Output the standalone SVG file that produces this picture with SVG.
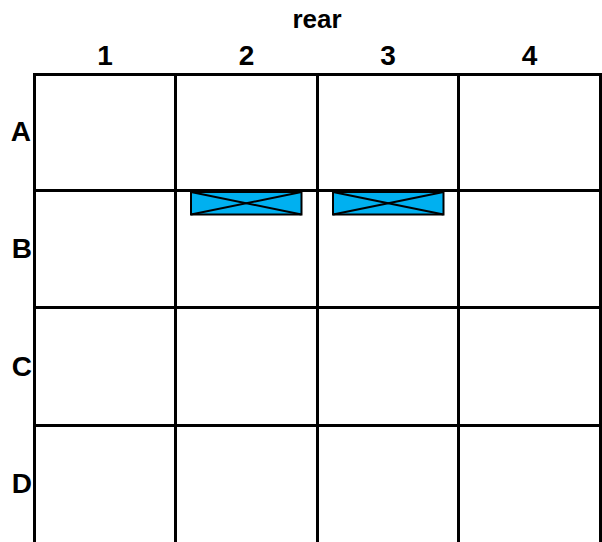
<svg xmlns="http://www.w3.org/2000/svg" width="602" height="542" viewBox="0 0 602 542">
<style>
.lbl{font-family:"Liberation Sans",Arial,sans-serif;font-weight:bold;fill:#000}
.grid line{stroke:#000;stroke-width:3}
.box rect{fill:#00B0F0;stroke:#000;stroke-width:2}
.box line{stroke:#000;stroke-width:2}
</style>
<rect width="602" height="542" fill="#fff"/>
<g id="labels">
<text class="lbl" x="317" y="28" font-size="26" text-anchor="middle">rear</text>
<text class="lbl" x="105" y="65" font-size="28" text-anchor="middle">1</text>
<text class="lbl" x="246.5" y="65" font-size="28" text-anchor="middle">2</text>
<text class="lbl" x="388" y="65" font-size="28" text-anchor="middle">3</text>
<text class="lbl" x="529.5" y="65" font-size="28" text-anchor="middle">4</text>
<text class="lbl" x="31" y="141" font-size="28" text-anchor="end">A</text>
<text class="lbl" x="32" y="258" font-size="28" text-anchor="end">B</text>
<text class="lbl" x="32" y="376" font-size="28" text-anchor="end">C</text>
<text class="lbl" x="32" y="493" font-size="28" text-anchor="end">D</text>
</g>
<g id="grid" class="grid">
<line x1="33" y1="74.5" x2="602" y2="74.5"/>
<line x1="34.5" y1="190.5" x2="600.5" y2="190.5"/>
<line x1="34.5" y1="307.5" x2="600.5" y2="307.5"/>
<line x1="34.5" y1="425.5" x2="600.5" y2="425.5"/>
<line x1="34.5" y1="73" x2="34.5" y2="542"/>
<line x1="175.5" y1="73" x2="175.5" y2="542"/>
<line x1="317.5" y1="73" x2="317.5" y2="542"/>
<line x1="458.5" y1="73" x2="458.5" y2="542"/>
<line x1="600.5" y1="73" x2="600.5" y2="542"/>
</g>
<g id="box1" class="box">
<rect x="191" y="192" width="110.5" height="22.5"/>
<line x1="191" y1="192" x2="301.5" y2="214.5"/>
<line x1="191" y1="214.5" x2="301.5" y2="192"/>
</g>
<g id="box2" class="box">
<rect x="333" y="192" width="110.5" height="22.5"/>
<line x1="333" y1="192" x2="443.5" y2="214.5"/>
<line x1="333" y1="214.5" x2="443.5" y2="192"/>
</g>
</svg>
